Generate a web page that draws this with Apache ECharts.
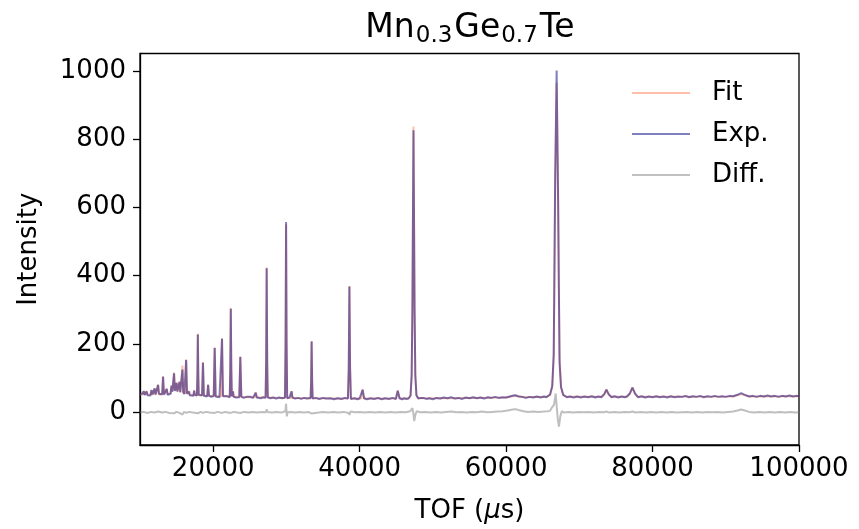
<!DOCTYPE html>
<html><head><meta charset="utf-8">
<script src="https://cdn.jsdelivr.net/npm/echarts@6/dist/echarts.min.js"></script>
<style>html,body{margin:0;padding:0;background:#fff}#c{width:859px;height:529px}</style>
</head><body><div id="c"></div>
<script>
const xTicks = [20000, 40000, 60000, 80000, 100000];
const yTicks = [0, 200, 400, 600, 800, 1000];
const seriesNames = ['Fit', 'Exp.', 'Diff.'];

const fitPts = [[10000,53],[10350,52],[10500,61],[10650,52],[10780,52],[10900,62],[11020,52],[11430,51],[11570,64],[11710,51],[11880,51],[12000,69],[12120,51],[12350,51],[12470,81],[12590,52],[13030,52],[13150,106],[13270,53],[13530,52],[13650,69],[13770,53],[14180,56],[14300,77],[14420,61],[14550,63],[14650,116],[14760,64],[14900,63],[15000,87],[15100,60],[15300,58],[15400,90],[15500,58],[15700,58],[15800,137],[15900,58],[16180,55],[16300,155],[16420,55],[16620,52],[16700,62],[16780,52],[17300,50],[17400,64],[17500,50],[17780,50],[17840,110],[17900,230],[17960,110],[18020,50],[18480,49],[18600,147],[18720,49],[19180,48],[19300,81],[19420,48],[20070,47],[20200,190],[20330,47],[21070,47],[21200,217],[21330,48],[22260,46],[22330,130],[22400,305],[22470,130],[22540,46],[22620,46],[22700,62],[22780,45],[23560,45],[23700,164],[23840,45],[24550,44],[24650,49],[24750,44],[25650,44],[25800,58],[25950,44],[26050,48],[26150,43],[27150,43],[27230,150],[27300,424],[27370,150],[27450,43],[29800,42],[29880,200],[29950,550],[30020,200],[30100,42],[30580,42],[30700,62],[30820,42],[33300,41],[33370,90],[33440,209],[33510,90],[33580,41],[38400,40],[38510,130],[38600,370],[38690,130],[38800,40],[40200,40],[40400,67],[40600,40],[44950,40],[45200,64],[45450,40],[46700,40],[46950,50],[47100,110],[47200,300],[47270,550],[47350,837],[47430,550],[47500,300],[47600,110],[47750,50],[48000,41],[52000,41],[55000,42],[60000,43],[61200,48],[62500,44],[65500,45],[66000,50],[66300,75],[66500,160],[66600,400],[66700,650],[66900,965],[67100,650],[67200,400],[67300,160],[67500,75],[67800,50],[68300,45],[73000,45],[73400,52],[73700,67],[74000,52],[74400,45],[76500,45],[76900,54],[77250,73],[77600,54],[78000,45],[91000,46],[92100,53],[93200,46],[100000,47]];

const expPts = [[10000,55],[10200,50],[10350,54],[10500,62],[10650,50],[10780,55],[10900,61],[11020,50],[11200,54],[11430,49],[11570,65],[11710,52],[11880,49],[12000,70],[12120,52],[12350,49],[12470,80],[12590,54],[12800,50],[13030,53],[13150,104],[13270,51],[13530,54],[13650,68],[13770,51],[14000,55],[14180,54],[14300,78],[14420,60],[14550,64],[14650,114],[14760,62],[14900,65],[15000,86],[15100,61],[15300,57],[15400,89],[15500,59],[15700,56],[15800,125],[15900,59],[16050,53],[16180,56],[16300,153],[16420,54],[16620,53],[16700,60],[16780,50],[17050,52],[17300,48],[17400,63],[17500,51],[17780,49],[17840,108],[17900,228],[17960,108],[18020,51],[18250,47],[18480,50],[18600,145],[18720,48],[18950,50],[19180,46],[19300,80],[19420,49],[19750,45],[20070,48],[20200,188],[20330,46],[20600,49],[20850,44],[21070,48],[21200,215],[21330,47],[21600,45],[21900,47],[22260,44],[22330,128],[22400,303],[22470,128],[22540,47],[22620,44],[22700,61],[22780,46],[23100,43],[23350,46],[23560,44],[23700,162],[23840,46],[24150,42],[24550,45],[24650,48],[24750,43],[25100,45],[25400,42],[25650,45],[25800,57],[25950,43],[26050,47],[26150,44],[26500,41],[26850,44],[27150,42],[27230,148],[27300,422],[27370,148],[27450,44],[27800,41],[28200,43],[28600,40],[29000,43],[29400,41],[29800,43],[29880,202],[29950,557],[30020,202],[30100,41],[30400,43],[30580,41],[30700,61],[30820,43],[31200,40],[31600,42],[32000,39],[32400,42],[32800,40],[33300,42],[33370,89],[33440,207],[33510,89],[33580,40],[34000,42],[34500,39],[35000,42],[35500,40],[36000,41],[36500,38],[37000,41],[37500,39],[38000,42],[38400,40],[38510,131],[38600,368],[38690,131],[38800,39],[39300,41],[39700,38],[40000,41],[40200,39],[40400,66],[40600,41],[41000,38],[41500,41],[42000,39],[42500,42],[43000,38],[43500,41],[44000,39],[44500,42],[44950,39],[45200,63],[45450,41],[45800,38],[46100,41],[46400,39],[46700,41],[46950,49],[47100,108],[47200,296],[47270,545],[47350,826],[47430,545],[47500,296],[47600,108],[47750,50],[48000,40],[48300,42],[48700,42],[49100,39],[49500,41],[50000,38],[50500,42],[51000,40],[51500,43],[52000,41],[52500,44],[53000,40],[53500,42],[54000,39],[54500,43],[55000,41],[55500,44],[56000,41],[56500,43],[57000,40],[57500,44],[58000,42],[58500,45],[59000,42],[59500,44],[60000,43],[60500,46],[61000,49],[61300,50],[61700,46],[62200,45],[62700,42],[63200,45],[63700,43],[64200,46],[64700,43],[65200,46],[65500,44],[66000,52],[66300,77],[66500,170],[66600,420],[66700,690],[66900,1001],[67100,620],[67200,370],[67300,145],[67500,73],[67800,51],[68300,44],[68700,46],[69200,43],[69700,46],[70200,43],[70700,46],[71200,44],[71700,47],[72200,43],[72600,46],[73000,44],[73400,53],[73700,66],[74000,53],[74400,44],[74800,47],[75300,43],[75800,46],[76200,44],[76500,46],[76900,55],[77250,72],[77600,55],[78000,44],[78500,47],[79000,43],[79500,46],[80000,44],[80500,47],[81000,44],[81500,46],[82000,43],[82500,47],[83000,44],[83500,46],[84000,45],[84500,48],[85000,44],[85500,47],[86000,45],[86500,48],[87000,44],[87500,47],[88000,45],[88500,48],[89000,45],[89500,47],[90000,45],[90500,48],[91000,47],[91600,51],[92100,56],[92600,51],[93200,46],[93700,48],[94200,45],[94700,48],[95200,46],[95700,49],[96200,46],[96700,48],[97200,45],[97700,48],[98200,46],[98700,49],[99200,46],[99600,48],[100000,47]];

const diffPts = [[10000,-1],[10500,1],[11000,-2],[11500,1],[12000,-1],[12500,2],[13000,-1],[13150,-3],[13500,1],[14000,-2],[14650,-3],[15000,1],[15400,-2],[15800,-7],[16000,1],[16300,-2],[16700,1],[17200,-1],[17900,-3],[18300,1],[18600,-2],[19000,1],[19500,-1],[20200,-2],[20600,1],[21200,-2],[21600,1],[22400,-2],[22800,1],[23300,-1],[23700,-2],[24200,1],[24800,-1],[25400,1],[26000,-1],[26600,1],[27200,0],[27300,9],[27400,1],[28000,-1],[28600,1],[29300,-1],[29850,3],[29950,25],[30050,-12],[30150,0],[30600,1],[31200,-1],[31800,1],[32400,-1],[33000,1],[33440,-4],[33700,1],[34400,-1],[35000,1],[35700,-1],[36400,1],[37100,-1],[37800,1],[38500,-2],[38600,-8],[38750,2],[39300,0],[40000,1],[40700,-1],[41400,1],[42100,-1],[42800,1],[43500,-1],[44200,1],[44900,-1],[45600,1],[46300,0],[46900,3],[47200,12],[47350,-5],[47450,-26],[47600,-8],[47800,3],[48300,0],[49000,1],[49700,-1],[50400,1],[51100,-1],[51800,1],[52500,2],[53200,0],[53900,1],[54600,-1],[55300,1],[56000,0],[56700,2],[57400,0],[58100,1],[58800,2],[59500,3],[60200,5],[60900,8],[61300,9],[61800,6],[62400,3],[63000,1],[63700,2],[64400,1],[65100,2],[65700,3],[66000,4],[66300,15],[66550,22],[66770,55],[66900,20],[67050,-20],[67220,-42],[67400,-12],[67600,3],[67900,-1],[68500,1],[69200,-1],[69900,1],[70600,0],[71300,1],[72000,-1],[72700,1],[73400,0],[73700,2],[74100,-1],[74800,1],[75500,-1],[76200,1],[76900,0],[77250,2],[77700,-1],[78400,1],[79100,-1],[79800,1],[80500,-1],[81200,1],[81900,-1],[82600,1],[83300,-1],[84000,0],[84700,1],[85400,-1],[86100,1],[86800,-1],[87500,1],[88200,0],[88900,1],[89600,-1],[90300,1],[91000,2],[91600,5],[92100,8],[92600,5],[93200,1],[93900,-1],[94600,1],[95300,-1],[96000,1],[96700,-1],[97400,1],[98100,-1],[98800,1],[99500,-1],[100000,0]];

const FONT = 'DejaVu Sans';
const FS = 26;
const chart = echarts.init(document.getElementById('c'), null, {renderer: 'canvas'});
const option = {
  animation: false,
  backgroundColor: '#ffffff',
  textStyle: {fontFamily: FONT},
  graphic: [{
    type: 'text', x: 470, y: 28, silent: true,
    style: {
      text: '{m|Mn}{s|0.3}{m|Ge}{s|0.7}{m|Te}',
      align: 'center', verticalAlign: 'middle',
      rich: {
        m: {fontSize: 33, fontFamily: FONT, lineHeight: 40, fill: '#000'},
        s: {fontSize: 23, fontFamily: FONT, lineHeight: 23, verticalAlign: 'bottom', fill: '#000', padding: [0, 2, 0, 1]}
      }
    }
  }],
  grid: {left: 140, right: 60, top: 53.5, bottom: 82, show: true, borderColor: '#000', borderWidth: 1.3, backgroundColor: 'transparent'},
  legend: {
    orient: 'vertical', left: 627, top: 74, itemWidth: 58, itemHeight: 2.2, itemGap: 13, icon: 'rect',
    textStyle: {fontSize: FS, color: '#000', fontFamily: FONT, lineHeight: 28, padding: [0, 0, 0, 17]},
    data: [
      {name: seriesNames[0], itemStyle: {color: '#ffbfa8', opacity: 1}},
      {name: seriesNames[1], itemStyle: {color: '#8080c0', opacity: 1}},
      {name: seriesNames[2], itemStyle: {color: '#c0c0c0', opacity: 1}}
    ]
  },
  xAxis: {
    type: 'value', min: 10000, max: 100000,
    axisLine: {show: true, onZero: false, lineStyle: {color: '#000', width: 1.3}},
    axisTick: {show: true, length: 7, customValues: xTicks, lineStyle: {color: '#000', width: 1.3}},
    axisLabel: {customValues: xTicks, fontSize: FS, color: '#000', margin: 11, fontFamily: FONT, formatter: v => String(v)},
    splitLine: {show: false},
    name: 'TOF ({it|μ}s)', nameLocation: 'middle', nameGap: 53,
    nameTextStyle: {fontSize: FS, color: '#000', fontFamily: FONT, rich: {it: {fontSize: FS, fontStyle: 'italic', fontFamily: FONT, color: '#000'}}}
  },
  yAxis: {
    type: 'value', min: -96, max: 1051,
    axisLine: {show: true, onZero: false, lineStyle: {color: '#000', width: 1.3}},
    axisTick: {show: true, length: 7, customValues: yTicks, lineStyle: {color: '#000', width: 1.3}},
    axisLabel: {customValues: yTicks, fontSize: FS, color: '#000', margin: 14, fontFamily: FONT, formatter: v => String(v)},
    splitLine: {show: false},
    name: 'Intensity', nameLocation: 'middle', nameGap: 98,
    nameTextStyle: {fontSize: FS, color: '#000', fontFamily: FONT}
  },
  series: [
    {name: seriesNames[0], type: 'line', data: fitPts, symbol: 'none', showSymbol: false, silent: true,
     itemStyle: {color: '#ff7f50'}, lineStyle: {color: '#ff7f50', width: 2, opacity: 0.5}, z: 2},
    {name: seriesNames[1], type: 'line', data: expPts, symbol: 'none', showSymbol: false, silent: true,
     itemStyle: {color: '#000080'}, lineStyle: {color: '#000080', width: 2, opacity: 0.5}, z: 3},
    {name: seriesNames[2], type: 'line', data: diffPts, symbol: 'none', showSymbol: false, silent: true,
     itemStyle: {color: '#808080'}, lineStyle: {color: '#808080', width: 2, opacity: 0.5}, z: 4}
  ]
};
chart.setOption(option);
</script>
</body></html>
